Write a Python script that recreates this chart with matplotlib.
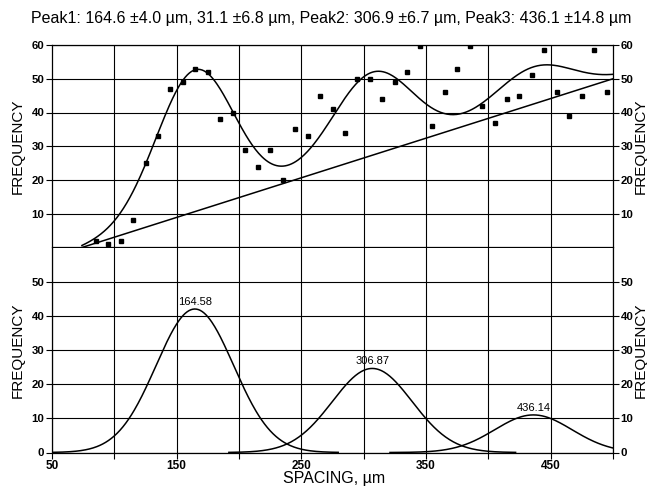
import numpy as np
import matplotlib.pyplot as plt

plt.rcParams['font.family'] = ['Liberation Sans', 'DejaVu Sans']

# measured histogram of spacings
spacing = [85, 95, 105, 115, 125, 135, 145, 155, 165, 175,
           185, 195, 205, 215, 225, 235, 245, 255, 265, 275,
           285, 295, 305, 315, 325, 335, 345, 355, 365, 375,
           385, 395, 405, 415, 425, 435, 445, 455, 465, 475,
           485, 495]
frequency = [2, 1, 2, 8, 25, 33, 47, 49, 53, 52,
             38, 40, 29, 24, 29, 20, 35, 33, 45, 41,
             34, 50, 50, 44, 49, 52, 59.6, 36, 46, 53,
             59.6, 42, 37, 44, 45, 51, 58.6, 46, 39, 45,
             58.5, 46]

# fitted gaussian components
peak_centers = [164.58, 306.87, 436.14]
peak_heights = [42.0, 24.6, 11.0]
peak_widths = [31.1, 32.0, 31.0]
peak_labels = ['164.58', '306.87', '436.14']

# linear background of the fit
baseline_x = [74.0, 500.0]
baseline_y = [0.0, 50.0]

title = ('Peak1: 164.6 \u00b14.0 \u00b5m, 31.1 \u00b16.8 \u00b5m, '
         'Peak2: 306.9 \u00b16.7 \u00b5m, Peak3: 436.1 \u00b114.8 \u00b5m')

W, H = 647, 491
fig = plt.figure(figsize=(W / 100, H / 100), dpi=100)


def frac(x0, y0, x1, y1):
    return [x0 / W, 1 - y1 / H, (x1 - x0) / W, (y1 - y0) / H]


ax_top = fig.add_axes(frac(52, 45, 613, 247.5))
ax_bot = fig.add_axes(frac(52, 247.5, 613, 452.5))


def gauss(x, mu, a, s):
    return a * np.exp(-(x - mu) ** 2 / (2 * s ** 2))


# top panel: data, background and total fit
xfit = np.linspace(baseline_x[0], baseline_x[1], 500)
background = np.interp(xfit, baseline_x, baseline_y)
total = background.copy()
for mu, a, s in zip(peak_centers, peak_heights, peak_widths):
    total += gauss(xfit, mu, a, s)

ax_top.plot(baseline_x, baseline_y, color='black', lw=1.1, zorder=3)
ax_top.plot(xfit, total, color='black', lw=1.1, zorder=3)
ax_top.plot(spacing, frequency, 's', color='black', ms=2.6, zorder=4)

# bottom panel: components
for mu, a, s, lab in zip(peak_centers, peak_heights, peak_widths, peak_labels):
    xs = np.linspace(max(50, mu - 115), min(500, mu + 115), 300)
    ax_bot.plot(xs, gauss(xs, mu, a, s), color='black', lw=1.1, zorder=3)
    ax_bot.annotate(lab, (mu, a), xytext=(0, 1.5), textcoords='offset points',
                    ha='center', va='bottom', fontsize=8)

for ax in (ax_top, ax_bot):
    ax.set_xlim(50, 500)
    ax.set_ylim(0, 60)
    ax.grid(True, color='black', lw=0.8)
    ax.set_axisbelow(True)
    for sp in ax.spines.values():
        sp.set_color('black')
        sp.set_linewidth(0.9)
    ax.tick_params(axis='y', direction='out', length=4, width=0.8,
                   left=True, right=True, labelleft=True, labelright=True,
                   labelsize=8.2, pad=1.5)

ax_bot.spines['top'].set_visible(False)

ax_top.set_yticks([10, 20, 30, 40, 50, 60])
ax_top.set_xticks(np.arange(100, 500, 50))
ax_top.tick_params(axis='x', length=0, labelbottom=False)

ax_bot.set_yticks([0, 10, 20, 30, 40, 50])
xt = np.arange(50, 501, 50)
ax_bot.set_xticks(xt)
ax_bot.set_xticklabels([str(v) if v % 100 == 50 else '' for v in xt],
                       fontsize=8.5, fontweight='bold')
ax_bot.tick_params(axis='x', direction='out', length=4, width=0.8, pad=1.5)
for ax in (ax_top, ax_bot):
    for t in ax.get_yticklabels():
        t.set_fontweight('bold')

fig.text(331 / W, 1 - 19 / H, title, ha='center', va='center', fontsize=11.5)
fig.text(334 / W, 1 - 479 / H, 'SPACING, \u00b5m', ha='center', va='center',
         fontsize=11.5)
for yc in (146, 350):
    fig.text(18 / W, 1 - yc / H, 'FREQUENCY', rotation=90, ha='center',
             va='center', fontsize=11)
    fig.text(641 / W, 1 - yc / H, 'FREQUENCY', rotation=90, ha='center',
             va='center', fontsize=11)

fig.savefig('out.png', dpi=100)
